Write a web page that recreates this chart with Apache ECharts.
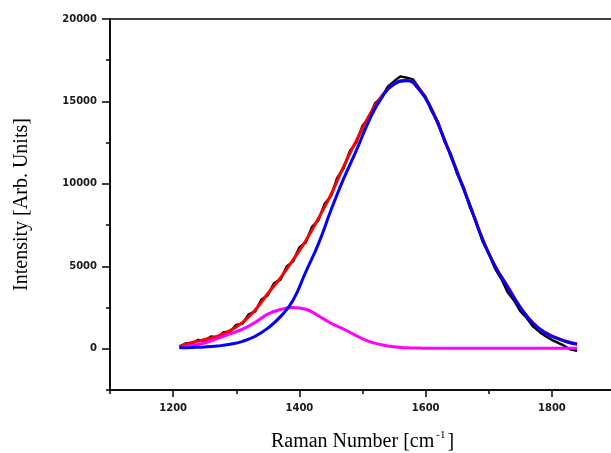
<!DOCTYPE html>
<html>
<head>
<meta charset="utf-8">
<script src="https://cdn.jsdelivr.net/npm/echarts@6/dist/echarts.min.js"></script>
<style>
html, body { margin: 0; padding: 0; background: #fff; }
#main { width: 611px; height: 453px; }
</style>
</head>
<body>
<div id="main"></div>
<script>
// raw spectrum (black), every 10 cm-1
const rawX = [1210, 1220, 1230, 1240, 1250, 1260, 1270, 1280, 1290, 1300, 1310, 1320, 1330, 1340, 1350, 1360,
    1370, 1380, 1390, 1400, 1410, 1420, 1430, 1440, 1450, 1460, 1470, 1480, 1490, 1500, 1510, 1520,
    1530, 1540, 1550, 1560, 1570, 1580, 1590, 1600, 1610, 1620, 1630, 1640, 1650, 1660, 1670, 1680,
    1690, 1700, 1710, 1720, 1730, 1740, 1750, 1760, 1770, 1780, 1790, 1800, 1810, 1820, 1830, 1840];
const rawY = [120, 330, 320, 540, 480, 750, 680, 1010, 1030, 1450, 1530, 2090, 2270, 2990, 3250, 3990,
    4190, 4990, 5300, 6140, 6450, 7390, 7790, 8790, 9250, 10360, 10950, 11990, 12490, 13520, 13990, 14890,
    15230, 15890, 16220, 16520, 16440, 16330, 15800, 15280, 14380, 13730, 12560, 11810, 10600, 9810, 8600, 7730,
    6530, 5780, 4860, 4230, 3430, 2930, 2280, 1870, 1360, 1040, 760, 540, 360, 170, -50, -120];

// fitted curves, every 20 cm-1
const fitX = [1210, 1230, 1250, 1270, 1290, 1310, 1330, 1350, 1370, 1390, 1410, 1430, 1450, 1470, 1490, 1510,
    1530, 1550, 1570, 1590, 1610, 1630, 1650, 1670, 1690, 1710, 1730, 1750, 1770, 1790, 1810, 1830, 1840];
const sumY = [150, 380, 560, 760, 1100, 1600, 2350, 3350, 4300, 5400, 6550, 7900, 9350, 11050, 12600, 14100,
    15300, 16050, 16280, 15750, 14480, 12680, 10730, 8730, 6680, 5030, 3780, 2530, 1580, 980, 630, 380, 310];
const gBandY = [60, 80, 110, 170, 270, 450, 760, 1250, 1950, 2950, 4650, 6350, 8400, 10300, 12000, 13800,
    15200, 16050, 16250, 15700, 14450, 12650, 10700, 8700, 6650, 5000, 3750, 2500, 1550, 950, 600, 350, 280];
const dBandY = [80, 200, 350, 620, 900, 1190, 1600, 2100, 2380, 2500, 2400, 2000, 1550, 1200, 800, 450,
    250, 120, 60, 40, 30, 30, 30, 30, 30, 30, 30, 30, 30, 30, 30, 30, 30];

const xMajor = [1200, 1400, 1600, 1800];
const xMinor = [1100, 1300, 1500, 1700, 1900];
const yMajor = [0, 5000, 10000, 15000, 20000];
const yMinor = [-2500, 2500, 7500, 12500, 17500];

function pairs (xs, ys) {
    return xs.map((x, i) => [x, ys[i]]);
}

const tickFont = { fontFamily: 'DejaVu Sans', fontWeight: 'bold', fontSize: 10, color: '#1a1a1a' };
const axisLine = { show: true, onZero: false, lineStyle: { color: '#000', width: 1.5 } };
const tickLine = { color: '#000', width: 1.5 };

let myChart = echarts.init(document.getElementById('main'), null, { renderer: 'canvas' });
let option = {
    animation: false,
    backgroundColor: '#fff',
    grid: {
        left: 110,
        top: 19,
        right: -4,
        bottom: 63,
        outerBoundsMode: 'none',
        containLabel: false,
        show: true,
        borderColor: '#000',
        borderWidth: 1.5
    },
    xAxis: [
        {
            type: 'value',
            min: 1100,
            max: 1900,
            name: 'Raman Number [cm{sup|-1}]',
            nameLocation: 'middle',
            nameGap: 40,
            nameTextStyle: {
                fontFamily: 'Liberation Serif',
                fontSize: 20,
                color: '#000',
                rich: {
                    sup: { fontFamily: 'Liberation Serif', fontSize: 11, verticalAlign: 'top', padding: [0, 2, 12, 2] }
                }
            },
            axisLine: axisLine,
            axisTick: { show: true, customValues: xMajor, length: 7, lineStyle: tickLine },
            axisLabel: Object.assign({ customValues: xMajor, margin: 13, formatter: v => String(v) }, tickFont),
            splitLine: { show: false }
        },
        {
            // minor ticks only
            type: 'value',
            min: 1100,
            max: 1900,
            position: 'bottom',
            axisLine: { show: false, onZero: false },
            axisTick: { show: true, customValues: xMinor, length: 4, lineStyle: tickLine },
            axisLabel: { show: false },
            splitLine: { show: false }
        }
    ],
    yAxis: [
        {
            type: 'value',
            min: -2500,
            max: 20000,
            name: 'Intensity [Arb. Units]',
            nameLocation: 'middle',
            nameGap: 78,
            nameTextStyle: { fontFamily: 'Liberation Serif', fontSize: 20, color: '#000' },
            axisLine: axisLine,
            axisTick: { show: true, customValues: yMajor, length: 8, lineStyle: tickLine },
            axisLabel: Object.assign({ customValues: yMajor, margin: 13, formatter: v => String(v) }, tickFont),
            splitLine: { show: false }
        },
        {
            // minor ticks only
            type: 'value',
            min: -2500,
            max: 20000,
            position: 'left',
            axisLine: { show: false, onZero: false },
            axisTick: { show: true, customValues: yMinor, length: 4, lineStyle: tickLine },
            axisLabel: { show: false },
            splitLine: { show: false }
        }
    ],
    series: [
        {
            name: 'data',
            type: 'line',
            data: pairs(rawX, rawY),
            showSymbol: false,
            lineStyle: { color: '#000', width: 2.5 }
        },
        {
            name: 'fit',
            type: 'line',
            data: pairs(fitX, sumY),
            smooth: true,
            showSymbol: false,
            lineStyle: { color: '#ff0000', width: 3 }
        },
        {
            name: 'D',
            type: 'line',
            data: pairs(fitX, dBandY),
            smooth: true,
            showSymbol: false,
            lineStyle: { color: '#ff00ff', width: 3 }
        },
        {
            name: 'G',
            type: 'line',
            data: pairs(fitX, gBandY),
            smooth: true,
            showSymbol: false,
            lineStyle: { color: '#0000ff', width: 3 }
        }
    ]
};
myChart.setOption(option);
</script>
</body>
</html>
